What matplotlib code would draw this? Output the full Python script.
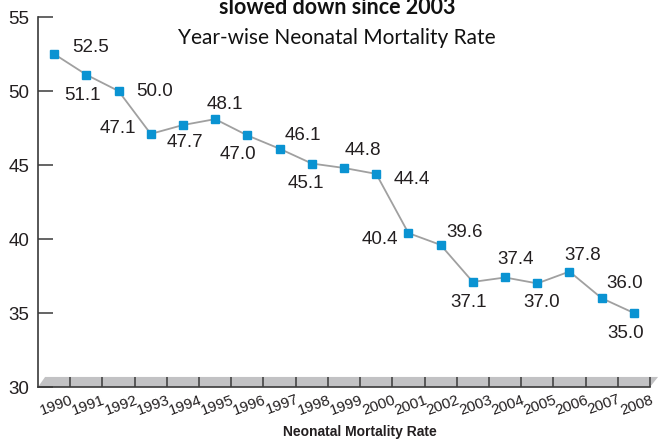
import matplotlib
matplotlib.use("Agg")
import matplotlib.pyplot as plt
from matplotlib.patches import Polygon

years = ["1990", "1991", "1992", "1993", "1994", "1995", "1996", "1997", "1998", "1999",
         "2000", "2001", "2002", "2003", "2004", "2005", "2006", "2007", "2008"]
nmr = [52.5, 51.1, 50.0, 47.1, 47.7, 48.1, 47.0, 46.1, 45.1, 44.8,
       44.4, 40.4, 39.6, 37.1, 37.4, 37.0, 37.8, 36.0, 35.0]

# label offsets in pixels (dx right, dy down) - styling only
label_offsets_px = [(36, -7), (-4, 21), (36, 1), (-33, -5), (2, 17), (10, -15), (-9, 19),
                    (23, -13), (-6, 20), (19, -17), (36, 6), (-29, 6), (24, -12), (-4, 21),
                    (11, -18), (4, 19), (13, -16), (23, -15), (-8, 20)]

W, H = 666, 444
fig = plt.figure(figsize=(W / 100, H / 100), dpi=100)
ax = fig.add_axes([38 / W, (H - 387) / H, 612 / W, (387 - 17) / H])

x = list(range(len(years)))
ax.set_xlim(-0.5, len(years) - 0.5)
ax.set_ylim(30, 55)

# floor
floor = Polygon([(-0.5, 30), (-0.28, 30.68), (len(years) - 0.25, 30.68), (len(years) - 0.5, 30)],
                closed=True, facecolor="#c2c2c4", edgecolor="none", clip_on=False, zorder=1)
ax.add_patch(floor)

ax.plot(x, nmr, color="#a0a0a0", lw=1.3, zorder=3)
ax.plot(x, nmr, ls="none", marker="s", ms=6, color="#0a93d2", mec="#0a93d2", zorder=4)

for xi, v, (dx, dy) in zip(x, nmr, label_offsets_px):
    ax.annotate(f"{v:.1f}", (xi, v), xytext=(dx * 0.72, -dy * 0.72), textcoords="offset points",
                ha="center", va="center", fontsize=13.5, color="#231f20",
                family="Liberation Sans", zorder=5)

for s in ["top", "right"]:
    ax.spines[s].set_visible(False)
for s in ["left", "bottom"]:
    ax.spines[s].set_color("#3a3a3a")
    ax.spines[s].set_linewidth(1.2)

ax.set_yticks([30, 35, 40, 45, 50, 55])
ax.set_yticklabels(["30", "35", "40", "45", "50", "55"], fontsize=13.5, family="Liberation Sans",
                   color="#231f20")
ax.tick_params(axis="y", direction="in", length=11, width=1.1, color="#3a3a3a", pad=6)

ax.set_xticks([i + 0.5 for i in x])
ax.set_xticklabels(years, rotation=20, ha="right", rotation_mode="anchor", fontsize=11,
                   family="Liberation Sans", color="#231f20")
ax.tick_params(axis="x", direction="in", length=7.5, width=1.1, color="#3a3a3a", pad=4)

fig.text(337 / W, 1 - 14 / H, "slowed down since 2003", ha="center", va="baseline",
         fontsize=15.5, fontweight="bold", family="Lato", color="#111111")
fig.text(337 / W, 1 - 38 / H, "Year-wise Neonatal Mortality Rate", ha="center", va="center",
         fontsize=15, family="Lato", color="#111111")
fig.text(360 / W, 1 - 432 / H, "Neonatal Mortality Rate", ha="center", va="center",
         fontsize=10, fontweight="bold", family="Liberation Sans", color="#231f20")

fig.savefig("out.png", dpi=100)
